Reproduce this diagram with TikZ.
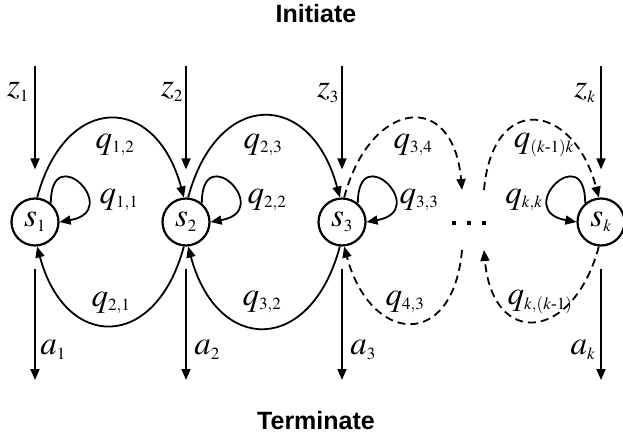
\documentclass[tikz,border=0pt]{standalone}
\usepackage{amsmath}
\usepackage{mathptmx}
\usepackage[no-math]{fontspec}
\setmainfont{Liberation Serif}
\newfontfamily\headfont{Liberation Sans}
\DeclareMathSizes{33}{33}{17}{13}
\usetikzlibrary{arrows.meta}

\begin{document}
\begin{tikzpicture}[x=1pt,y=-1pt,
  st/.style={draw, circle, line width=2.2pt, minimum size=47pt, inner sep=0pt, font=\fontsize{33}{33}\selectfont},
  lab/.style={inner sep=1pt, font=\fontsize{33}{33}\selectfont},
  ttl/.style={font=\headfont\bfseries\fontsize{25}{25}\selectfont},
  tr/.style={line width=1.8pt, -{Triangle[length=11pt,width=9pt]}},
  dsh/.style={tr, dash pattern=on 8pt off 5pt}
]
\useasboundingbox (0,0) rectangle (623,435);

% states
\node[st] (s1) at (35,222) {$s_1$};
\node[st] (s2) at (186,222) {$s_2$};
\node[st] (s3) at (342,222) {$s_3$};
\node[st] (sk) at (601,222) {$s_k$};
\node[inner sep=0pt] (dots) at (469,223) {\rule{4.5pt}{4.5pt}\hspace{10.5pt}\rule{4.5pt}{4.5pt}\hspace{10.5pt}\rule{4.5pt}{4.5pt}};

\node[ttl] (init) at (316,14) {Initiate};
\node[ttl] (term) at (316,421) {Terminate};

% free ends
\coordinate (top) at (0,66);
\coordinate (bot) at (0,380);
\coordinate (gapa) at (462,190);
\coordinate (gapb) at (484,190);
\coordinate (gapc) at (462,250);
\coordinate (gapd) at (484,250);

\foreach \n in {s1,s2,s3,sk} {
  \draw[tr] (\n |- top) -- ([yshift=28pt]\n.north);
  \draw[tr] ([yshift=-22pt]\n.south) -- (\n |- bot);
}

% forward and backward moves
\draw[tr] (s1.85) to[out=75,in=105,looseness=1.9] (s2.95);
\draw[tr] (s2.85) to[out=75,in=105,looseness=1.9] (s3.95);
\draw[dsh] (s3.85) to[out=75,in=95,looseness=2.2] (gapa);
\draw[dsh] (gapb) to[out=85,in=105,looseness=2.2] (sk.95);
\draw[tr] (s2.265) to[out=-105,in=-75,looseness=1.9] (s1.275);
\draw[tr] (s3.265) to[out=-105,in=-75,looseness=1.9] (s2.275);
\draw[dsh] (gapc) to[out=-95,in=-75,looseness=2.2] (s3.275);
\draw[dsh] (sk.265) to[out=-105,in=-85,looseness=2.2] (gapd);

% staying
\draw[tr] (s1.50) to[out=90,in=10,looseness=8] (s1.0);
\draw[tr] (s2.50) to[out=90,in=10,looseness=8] (s2.0);
\draw[tr] (s3.50) to[out=90,in=10,looseness=8] (s3.0);
\draw[tr] (sk.130) to[out=90,in=170,looseness=8] (sk.180);

% labels
\node[lab] (lz1) at (18,92) {$z_1$};
\node[lab] (lz2) at (172,92) {$z_2$};
\node[lab] (lz3) at (328,93) {$z_3$};
\node[lab] (lzk) at (585,93) {$z_k$};
\node[lab] (la1) at (53,350) {$a_1$};
\node[lab] (la2) at (207,350) {$a_2$};
\node[lab] (la3) at (363,350) {$a_3$};
\node[lab] (lak) at (583,350) {$a_k$};

\node[lab] (l12) at (115,145) {$q_{1,2}$};
\node[lab] (l23) at (263,145) {$q_{2,3}$};
\node[lab] (l34) at (413,145) {$q_{3,4}$};
\node[lab] (lk1k) at (544,145) {$q_{(k\text{-}1)k}$};
\node[lab] (l11) at (119,200) {$q_{1,1}$};
\node[lab] (l22) at (267,200) {$q_{2,2}$};
\node[lab] (l33) at (419,200) {$q_{3,3}$};
\node[lab] (lkk) at (524,200) {$q_{k,k}$};
\node[lab] (l21) at (111,303) {$q_{2,1}$};
\node[lab] (l32) at (262,302) {$q_{3,2}$};
\node[lab] (l43) at (405,302) {$q_{4,3}$};
\node[lab] (lkk1) at (540,302) {$q_{k,(k\text{-}1)}$};
\end{tikzpicture}
\end{document}
